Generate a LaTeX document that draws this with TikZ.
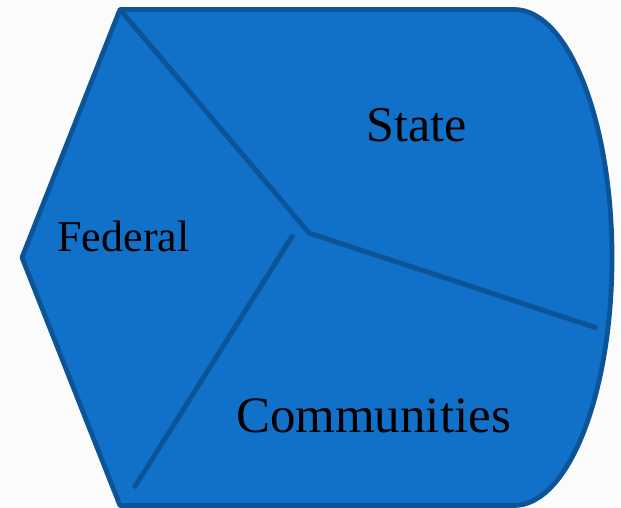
\documentclass[tikz,border=0pt]{standalone}
\usepackage{fontspec}
\setmainfont{Liberation Serif}
\definecolor{shapefill}{RGB}{17,112,200}
\definecolor{shapeline}{RGB}{12,84,152}
\definecolor{bg}{RGB}{251,251,251}
\begin{document}
\begin{tikzpicture}[x=1pt,y=-1pt,
  outline/.style={draw=shapeline,line width=4.8pt,fill=shapefill,line join=round},
  divider/.style={draw=shapeline,line width=5pt,line cap=butt},
  label/.style={anchor=base,inner sep=0pt,text=black}]
\fill[bg] (0,0) rectangle (621,508);
\useasboundingbox (0,0) rectangle (621,508);
% outline of the display shape
\coordinate (L) at (22,257.5);
\coordinate (TL) at (120,9.5);
\coordinate (TR) at (514,9.5);
\coordinate (BL) at (120,505.5);
\path[outline] (L) -- (TL) -- (TR)
  arc[start angle=-90,end angle=90,x radius=98,y radius=248] -- (BL) -- cycle;
% dividers
\coordinate (C) at (309,233);
\coordinate (R) at (597,328);
\coordinate (D1) at (293,235);
\coordinate (D2) at (134,488);
\draw[divider] (TL) -- (C) -- (R);
\draw[divider] (D1) -- (D2);
% labels
\node[label,font=\fontsize{50}{60}\selectfont] (state) at (416.5,142) {State};
\node[label,font=\fontsize{51}{61}\selectfont] (comm) at (373.5,432) {Communities};
\node[label,font=\fontsize{44}{53}\selectfont] (fed) at (123.5,251) {Federal};
\end{tikzpicture}
\end{document}
